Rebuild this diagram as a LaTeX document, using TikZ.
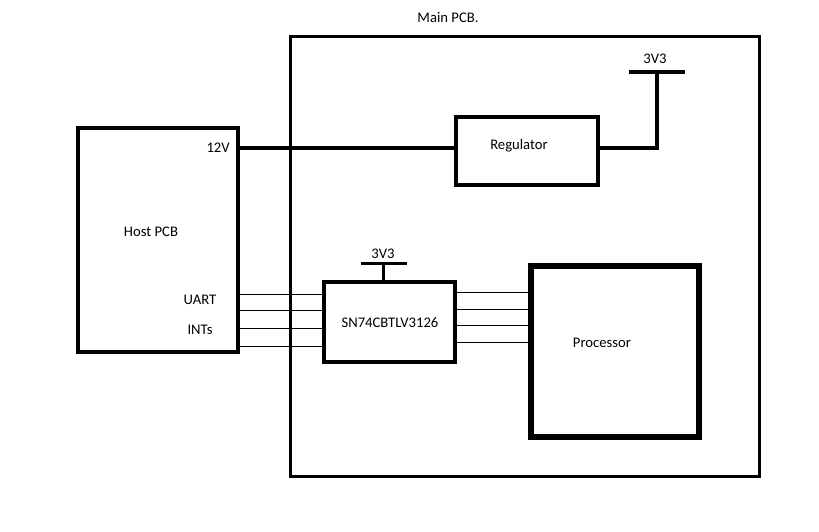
\documentclass[tikz,border=0pt]{standalone}
\usepackage{fontspec}
\setmainfont{Carlito}
\usepackage{tikz}
\usetikzlibrary{calc}

\begin{document}
\begin{tikzpicture}[x=0.75pt, y=-0.75pt, font=\fontsize{11}{13}\selectfont,
    board/.style={draw, line width=2.25pt, minimum width=#1},
    block/.style={draw, line width=3pt, inner sep=0pt},
    wire/.style={line width=3pt},
    bus/.style={line width=0.75pt},
    lbl/.style={inner sep=0pt}]
    \useasboundingbox (0,0) rectangle (819,532);
    % boards
    \node[board=469*0.75pt, minimum height=440*0.75pt] (main) at (524.5,256) {};
    \node[lbl] (mainlbl) at (448,18) {Main PCB.};
    \node[block, line width=3pt, minimum width=160*0.75pt, minimum height=224*0.75pt] (host) at (158,240) {};
    \node[lbl] (hostlbl) at (151,232) {Host PCB};
    \node[lbl, anchor=east] (v12lbl) at (230,148) {12V};
    \node[lbl] (uart) at (200,300) {UART};
    \node[lbl] (ints) at (200,330) {INTs};
    % parts on main PCB
    \node[block, minimum width=142*0.75pt, minimum height=68*0.75pt] (reg) at (527,151) {};
    \node[lbl] (reglbl) at (519,146) {Regulator};
    \node[block, line width=3.5pt, minimum width=131*0.75pt, minimum height=80*0.75pt] (sn) at (389.5,322) {};
    \node[lbl] (snlbl) at (390,323) {SN74CBTLV3126};
    \node[block, line width=4pt, minimum width=168*0.75pt, minimum height=171*0.75pt] (proc) at (615,351.5) {};
    \node[lbl] (proclbl) at (602,343) {Processor};
    % 12V feed and 3V3 rail
    \coordinate (v12) at (238,148);
    \coordinate (rail) at (657,72);
    \draw[wire] (v12) -- (v12 -| reg.west);
    \draw[wire] (v12 -| reg.east) -| (rail);
    \draw[wire] ($(rail)+(-28,0)$) -- ($(rail)+(28,0)$);
    \node[lbl] (raillbl) at (655,59) {3V3};
    \coordinate (snrail) at (383,263);
    \draw[line width=2.25pt] (snrail) -- (snrail |- sn.north);
    \draw[line width=2.25pt] ($(snrail)+(-22,0)$) -- ($(snrail)+(24,0)$);
    \node[lbl] (snraillbl) at (383,254) {3V3};
    % signal lines
    \foreach \ya/\yb [count=\i] in {294/292, 310/309, 328/325, 346/342} {
        \coordinate (a\i) at (0,\ya);
        \coordinate (b\i) at (0,\yb);
        \draw[bus] (host.east |- a\i) -- (sn.west |- a\i);
        \draw[bus] (sn.east |- b\i) -- (proc.west |- b\i);
    }
\end{tikzpicture}
\end{document}
